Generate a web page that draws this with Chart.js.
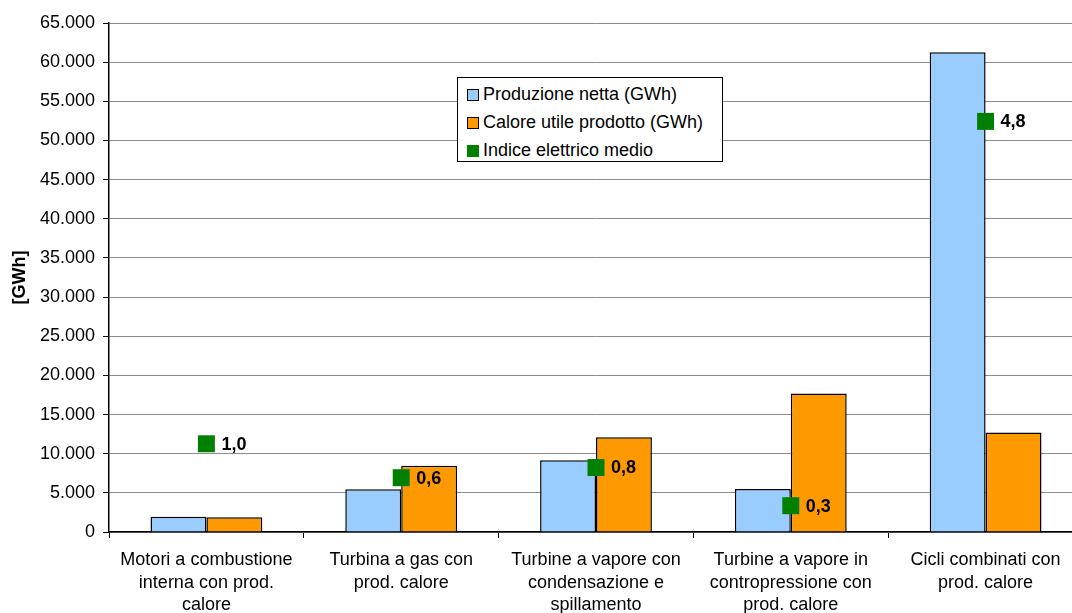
<!DOCTYPE html>
<html>
<head>
<meta charset="utf-8">
<script src="https://cdn.jsdelivr.net/npm/chart.js@4.4.1/dist/chart.umd.min.js"></script>
<style>
  html, body { margin: 0; padding: 0; background: #fff; overflow: hidden; width: 1072px; height: 613px; }
  #wrap { position: relative; width: 1083px; height: 613px; }
  #chart { display: block; }
  #legend {
    position: absolute; left: 457px; top: 77px; width: 264px; height: 83px;
    background: #fff; border: 1px solid #000;
    font-family: "Liberation Sans", Arial, sans-serif; font-size: 18px; color: #000;
  }
  #legend div { position: absolute; left: 9px; height: 22px; line-height: 22px; white-space: nowrap; }
  #legend span { display: inline-block; width: 12px; height: 12px; margin-right: 4px; vertical-align: -1px; box-sizing: border-box; }
</style>
</head>
<body>
<div id="wrap">
  <canvas id="chart" width="1083" height="613"></canvas>
  <div id="legend"></div>
</div>
<script>
// categories
const categories = [
  ['Motori a combustione', 'interna con prod.', 'calore'],
  ['Turbina a gas con', 'prod. calore'],
  ['Turbine a vapore con', 'condensazione e', 'spillamento'],
  ['Turbine a vapore in', 'contropressione con', 'prod. calore'],
  ['Cicli combinati con', 'prod. calore']
];

// series values (GWh)
const produzioneNetta = [1950, 5450, 9150, 5480, 61250];
const caloreUtile = [1870, 8450, 12100, 17700, 12720];
// indice elettrico medio (secondary, hidden axis)
const indiceElettrico = [1.04, 0.64, 0.76, 0.31, 4.84];

const seriesLabels = ['Produzione netta (GWh)', 'Calore utile prodotto (GWh)', 'Indice elettrico medio'];
const seriesColors = ['#99CCFF', '#FF9900', '#008000'];

// y axis ticks
const yMin = 0, yMax = 65000, yStep = 5000;
const y2Max = 6;

const fontFamily = '"Liberation Sans", Arial, sans-serif';

const fmtThousands = v => String(v).replace(/\B(?=(\d{3})+(?!\d))/g, '.');

// labels next to the green squares
const indexLabels = {
  id: 'indexLabels',
  afterDatasetsDraw(chart) {
    const meta = chart.getDatasetMeta(0);
    const ctx = chart.ctx;
    ctx.save();
    ctx.font = 'bold 18px ' + fontFamily;
    ctx.fillStyle = '#000';
    ctx.textAlign = 'left';
    ctx.textBaseline = 'middle';
    meta.data.forEach((pt, i) => {
      const txt = indiceElettrico[i].toFixed(1).replace('.', ',');
      ctx.fillText(txt, pt.x + 15, pt.y + 1);
    });
    ctx.restore();
  }
};

const ctx = document.getElementById('chart').getContext('2d');
const chart = new Chart(ctx, {
  type: 'bar',
  data: {
    labels: categories,
    datasets: [
      {
        type: 'line',
        label: seriesLabels[2],
        data: indiceElettrico,
        yAxisID: 'y2',
        showLine: false,
        pointStyle: 'rect',
        pointRadius: 12,
        pointHoverRadius: 12,
        pointBackgroundColor: seriesColors[2],
        pointBorderWidth: 0,
        borderColor: seriesColors[2],
        backgroundColor: seriesColors[2],
        clip: false,
        order: 0
      },
      {
        label: seriesLabels[0],
        data: produzioneNetta,
        backgroundColor: seriesColors[0],
        borderColor: '#000',
        borderWidth: 1.5,
        categoryPercentage: 0.574,
        barPercentage: 1.0,
        order: 1
      },
      {
        label: seriesLabels[1],
        data: caloreUtile,
        backgroundColor: seriesColors[1],
        borderColor: '#000',
        borderWidth: 1.5,
        categoryPercentage: 0.574,
        barPercentage: 1.0,
        order: 1
      }
    ]
  },
  options: {
    responsive: false,
    animation: false,
    devicePixelRatio: 1,
    layout: { autoPadding: false, padding: { top: 23, right: 0, left: 0, bottom: 0 } },
    plugins: {
      legend: { display: false },
      tooltip: { enabled: false }
    },
    scales: {
      x: {
        grid: {
          offset: true,
          drawOnChartArea: false,
          drawTicks: true,
          tickLength: 6,
          color: '#000',
          tickColor: '#000'
        },
        border: { color: '#000', width: 1.5 },
        ticks: {
          color: '#000',
          padding: 11,
          maxRotation: 0,
          autoSkip: false,
          font: { family: fontFamily, size: 18, lineHeight: 1.25 }
        },
        afterFit(scale) {
          scale.height = 81;
          scale.paddingLeft = 0;
          scale.paddingRight = 0;
        }
      },
      y: {
        min: yMin,
        max: yMax,
        ticks: {
          stepSize: yStep,
          color: '#000',
          padding: 8,
          font: { family: fontFamily, size: 18 },
          callback: v => fmtThousands(v)
        },
        grid: {
          color: '#8c8c8c',
          tickColor: '#000',
          tickLength: 6,
          lineWidth: 1
        },
        border: { color: '#000', width: 1.5 },
        title: {
          display: true,
          text: '[GWh]',
          color: '#000',
          font: { family: fontFamily, size: 18, weight: 'bold' },
          padding: { top: 9, bottom: 0 }
        },
        afterFit(scale) {
          scale.width = 109;
          scale.paddingTop = 0;
          scale.paddingBottom = 0;
        }
      },
      y2: {
        display: false,
        position: 'right',
        min: 0,
        max: y2Max,
        grid: { drawOnChartArea: false }
      }
    }
  },
  plugins: [indexLabels]
});

// legend box inside the plot, built from the datasets
const legendEl = document.getElementById('legend');
const legendOrder = [1, 2, 0];
legendOrder.forEach((di, row) => {
  const ds = chart.data.datasets[di];
  const item = document.createElement('div');
  item.style.top = (5 + row * 28) + 'px';
  const sw = document.createElement('span');
  sw.style.background = ds.type === 'line' ? ds.pointBackgroundColor : ds.backgroundColor;
  if (ds.type !== 'line') sw.style.border = '1px solid #000';
  item.appendChild(sw);
  item.appendChild(document.createTextNode(ds.label));
  legendEl.appendChild(item);
});
</script>
</body>
</html>
